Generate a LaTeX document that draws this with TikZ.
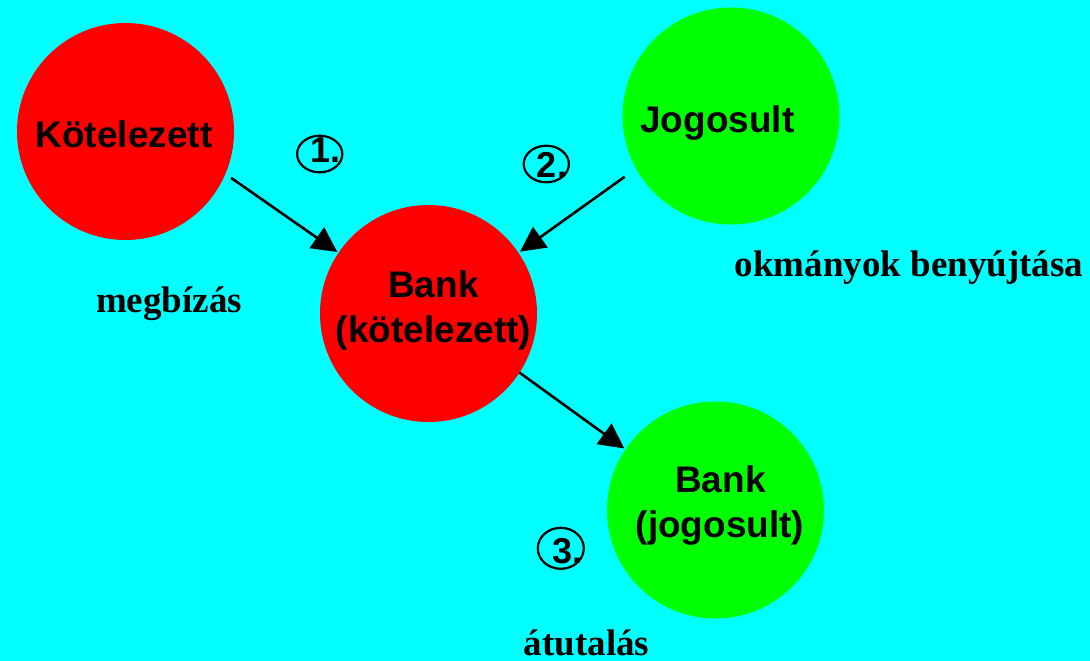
\documentclass[tikz,border=0pt]{standalone}
\usepackage{fontspec}
\setmainfont{Liberation Serif}
\newfontfamily\arialfont{Liberation Sans}
\usetikzlibrary{arrows.meta}
\definecolor{bgcyan}{RGB}{0,255,255}
\definecolor{redfill}{RGB}{255,0,0}
\definecolor{greenfill}{RGB}{0,255,0}
\tikzset{
  disc/.style={circle, minimum size=217pt, inner sep=0pt, outer sep=0pt, draw=none},
  circtext/.style={anchor=base, inner sep=0pt, font=\arialfont\bfseries\fontsize{37}{44}\selectfont},
  lbl/.style={anchor=base, inner sep=0pt, font=\bfseries\fontsize{37}{44}\selectfont},
  numring/.style={draw=black, line width=2.2pt},
  numtext/.style={anchor=base, inner sep=0pt, font=\arialfont\bfseries\fontsize{36}{42}\selectfont},
  conn/.style={draw=black, line width=2.6pt, -{Triangle[length=25pt,width=25pt]}}
}
\begin{document}
\begin{tikzpicture}[x=1pt,y=-1pt]
\fill[bgcyan] (0,0) rectangle (1090,661);
\useasboundingbox (0,0) rectangle (1090,661);

% discs
\node[disc, fill=redfill] (k) at (125.5,131.5) {};
\node[disc, fill=greenfill] (j) at (731,116) {};
\node[disc, fill=redfill] (bk) at (428.5,313.5) {};
\node[disc, fill=greenfill] (bj) at (715.5,510) {};

% disc texts
\node[circtext] (kt) at (124,147) {Kötelezett};
\node[circtext] (jt) at (717.5,132) {Jogosult};
\node[circtext] (bkt1) at (433.5,297) {Bank};
\node[circtext] (bkt2) at (433.5,342) {(kötelezett)};
\node[circtext] (bjt1) at (720.5,492) {Bank};
\node[circtext] (bjt2) at (720,537) {(jogosult)};

% labels
\node[lbl] (l1) at (169,312) {megbízás};
\node[lbl] (l2) at (909,276) {okmányok benyújtása};
\node[lbl] (l3) at (586.5,655) {átutalás};

% numbered rings
\draw[numring] (319.7,154) ellipse [x radius=22.6pt, y radius=18.3pt];
\node[numtext] (n1) at (325.5,162) {1.};
\draw[numring] (546.3,164) ellipse [x radius=22.6pt, y radius=18.3pt];
\node[numtext] (n2) at (552,177) {2.};
\draw[numring] (560.8,548.3) ellipse [x radius=23pt, y radius=20.5pt];
\node[numtext] (n3) at (567.5,563) {3.};

% connectors
\draw[conn, shorten <=7pt, shorten >=1.5pt] (k.-23) -- (bk.146);
\draw[conn, shorten <=14pt, shorten >=2pt] (j.209.8) -- (bk.34);
\draw[conn, shorten >=1.5pt] (bk.-33.5) -- (bj.146.4);
\end{tikzpicture}
\end{document}
